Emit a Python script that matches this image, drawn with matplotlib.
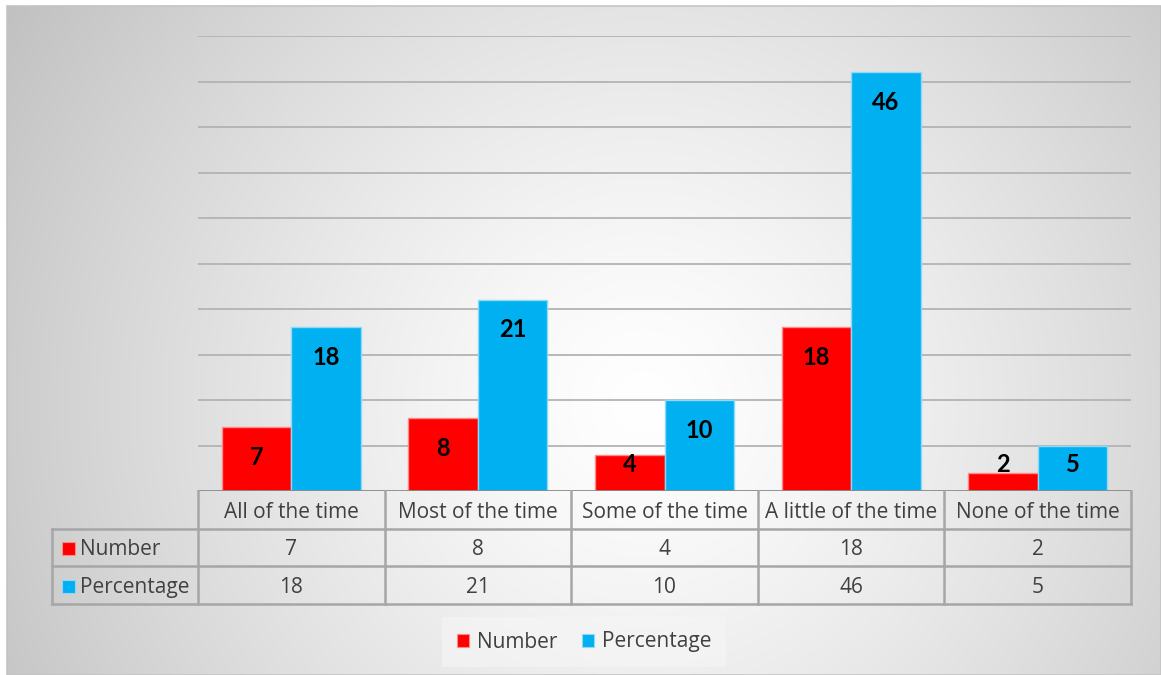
import numpy as np
import matplotlib
matplotlib.use("Agg")
import matplotlib.pyplot as plt
from matplotlib.patches import Rectangle
from matplotlib.lines import Line2D

plt.rcParams["font.family"] = ["Open Sans", "DejaVu Sans"]

categories = ["All of the time", "Most of the time", "Some of the time",
              "A little of the time", "None of the time"]
series_names = ["Number", "Percentage"]
number = [7, 8, 4, 18, 2]
percentage = [18, 21, 10, 46, 5]
colors = ["#FF0000", "#00B0F0"]
edge_colors = ["#FF8A8A", "#8FD9F7"]

W, H = 1161, 675
fig = plt.figure(figsize=(W / 100, H / 100), dpi=100)

# radial grey gradient behind the whole chart
bg = fig.add_axes([0, 0, 1, 1])
bg.set_xlim(0, W)
bg.set_ylim(H, 0)
bg.axis("off")
yy, xx = np.mgrid[0:H, 0:W]
dist = np.hypot(xx - 640, yy - 400) / 745.0
shade = 1.0 - 0.24 * np.clip(dist, 0, 1.2) ** 1.3
bg.imshow(np.dstack([shade] * 3), extent=(7, W, H, 6), zorder=0)
bg.add_patch(Rectangle((7, 6), W - 7, H - 6, fill=False,
                       edgecolor="#c4c4c4", linewidth=1.2, zorder=1))

# plot area
left, right, top, bottom = 198, 1131, 36, 491
ax = fig.add_axes([left / W, 1 - bottom / H, (right - left) / W, (bottom - top) / H])
ax.patch.set_alpha(0)
ax.set_xlim(-0.5, len(categories) - 0.5)
ax.set_ylim(0, 50)
for s in ax.spines.values():
    s.set_visible(False)
ax.set_xticks([])
ax.set_yticks(range(5, 51, 5))
ax.tick_params(axis="y", length=0, labelleft=False)
ax.grid(axis="y", color="#b3b3b3", linewidth=1.3)
ax.set_axisbelow(True)

x = np.arange(len(categories))
width = 0.372
for k, (vals, c, ec) in enumerate(zip([number, percentage], colors, edge_colors)):
    pos = x + (k - 0.5) * width
    ax.bar(pos, vals, width=width, color=c, edgecolor=ec, linewidth=1.0, zorder=3)
    for px, v in zip(pos, vals):
        # inside-end labels, pushed up to stay readable on short bars
        ax.text(px, max(v - 3.3, 2.9), str(v), ha="center", va="center",
                fontsize=17, fontweight="bold", color="black", zorder=4,
                family=["Lato", "DejaVu Sans"])

ax.axhline(0, color="#8a8a8a", linewidth=2, zorder=5)

# data table under the axis
tr = ax.get_xaxis_transform()
row_h = 37.5 / (bottom - top)
grid_c = "#a6a6a6"
label_left = -0.5 - (left - 52) / ((right - left) / len(categories))
y0, y1, y2, y3 = 0, -row_h, -2 * row_h, -3 * row_h
nudge = 2.5 / (bottom - top)

def tline(xs, ys):
    ax.add_line(Line2D(xs, ys, transform=tr, color=grid_c, linewidth=1.8,
                       clip_on=False, zorder=5))

for i in range(len(categories) + 1):
    tline([i - 0.5, i - 0.5], [y0, y3])
tline([label_left, label_left], [y1, y3])
for yv in (y1, y2, y3):
    tline([label_left, len(categories) - 0.5], [yv, yv])

txt_c = "#404040"
fs = 15
for i, cat in enumerate(categories):
    ax.text(i, (y0 + y1) / 2 - nudge, cat, transform=tr, ha="center", va="center",
            fontsize=fs, color=txt_c, clip_on=False)
    ax.text(i, (y1 + y2) / 2 - nudge, str(number[i]), transform=tr, ha="center",
            va="center", fontsize=fs, color=txt_c, clip_on=False)
    ax.text(i, (y2 + y3) / 2 - nudge, str(percentage[i]), transform=tr, ha="center",
            va="center", fontsize=fs, color=txt_c, clip_on=False)

cell_w = (right - left) / len(categories)
for r, (name, c, ec) in enumerate(zip(series_names, colors, edge_colors)):
    yc = (y1 + y2) / 2 if r == 0 else (y2 + y3) / 2
    sq_x = label_left + 10 / cell_w
    sq = Rectangle((sq_x, yc - 6.5 / (bottom - top) - nudge / 2), 13 / cell_w,
                   13 / (bottom - top), transform=tr, facecolor=c, edgecolor=ec,
                   linewidth=0.8, clip_on=False, zorder=5)
    ax.add_patch(sq)
    ax.text(sq_x + 18 / cell_w, yc - nudge, name, transform=tr, ha="left",
            va="center", fontsize=fs, color=txt_c, clip_on=False)

# legend below the table
handles = [Rectangle((0, 0), 1, 1, facecolor=c, edgecolor=ec, linewidth=0.8)
           for c, ec in zip(colors, edge_colors)]
leg = fig.legend(handles, series_names, loc="center",
                 bbox_to_anchor=(584 / W, 1 - 642 / H), ncol=2, fontsize=fs,
                 frameon=True, handlelength=0.6, handleheight=0.6,
                 handletextpad=0.35, columnspacing=1.2, borderpad=0.7,
                 borderaxespad=0)
leg.get_frame().set_facecolor("#f6f6f6")
leg.get_frame().set_alpha(0.6)
leg.get_frame().set_edgecolor("none")
leg.get_frame().set_boxstyle("square", pad=0)
for t in leg.get_texts():
    t.set_color(txt_c)

fig.savefig("out.png", dpi=100)
